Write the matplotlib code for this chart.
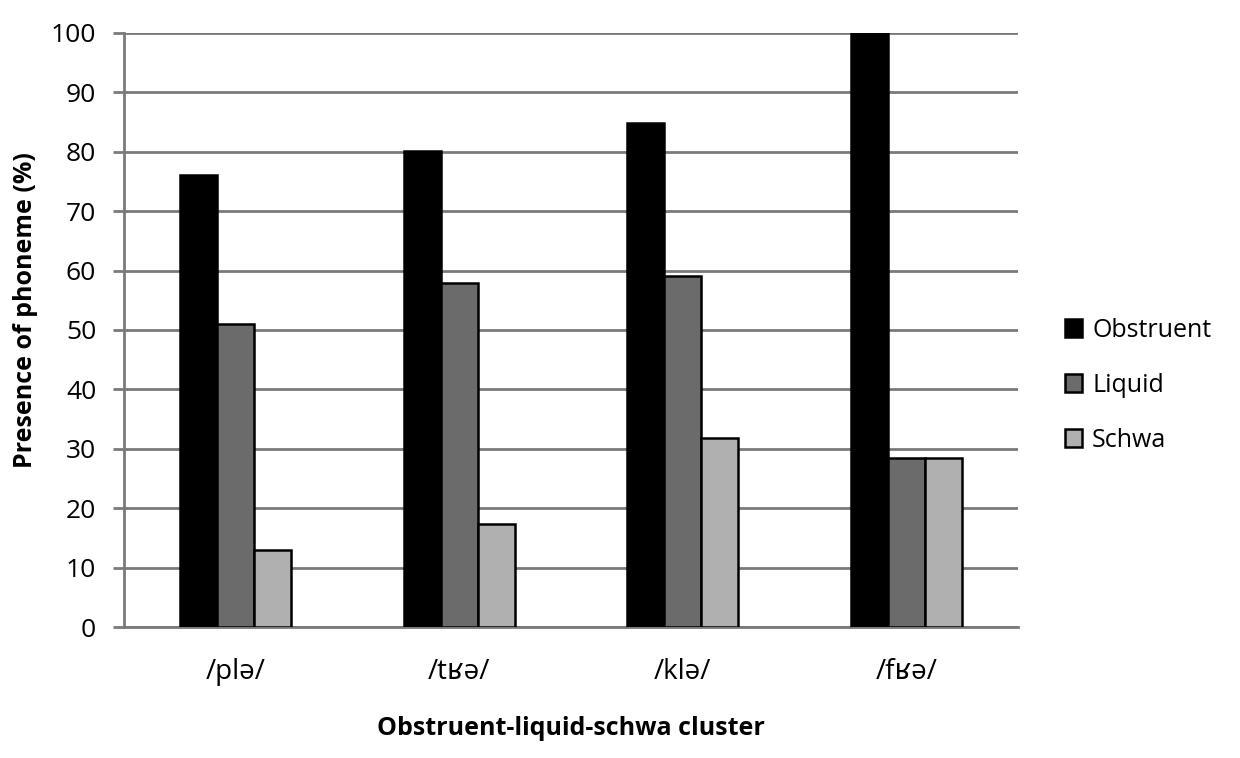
import matplotlib
matplotlib.use('Agg')
import matplotlib.pyplot as plt
import numpy as np

plt.rcParams['font.family'] = ['Open Sans', 'DejaVu Sans']

clusters = ['/plə/', '/tʁə/', '/klə/', '/fʁə/']
series = ['Obstruent', 'Liquid', 'Schwa']
obstruent = [76.1, 80.1, 84.9, 100.0]
liquid = [51.0, 57.9, 59.1, 28.5]
schwa = [13.0, 17.3, 31.9, 28.5]

colors = ['#000000', '#6b6b6b', '#b0b0b0']
grid_grey = '#7a7a7a'

fig = plt.figure(figsize=(12.4, 7.58), dpi=100)
ax = fig.add_axes([0.1, 0.1728, 0.721, 0.7837])

x = np.arange(len(clusters))
width = 0.165
for i, (name, vals) in enumerate(zip(series, [obstruent, liquid, schwa])):
    ax.bar(x + (i - 1) * width, vals, width, color=colors[i],
           edgecolor='black', linewidth=1.8, label=name, zorder=3)

ax.set_xlim(-0.5, len(clusters) - 0.5)
ax.set_ylim(0, 100)
ax.set_yticks(range(0, 101, 10))
ax.yaxis.grid(True, color=grid_grey, linewidth=2, zorder=0)
ax.set_axisbelow(True)

for side in ('top', 'right'):
    ax.spines[side].set_visible(False)
for side in ('left', 'bottom'):
    ax.spines[side].set_color(grid_grey)
    ax.spines[side].set_linewidth(2)

ax.tick_params(axis='y', length=8, width=2, color=grid_grey, labelsize=19,
               pad=12)
ax.tick_params(axis='x', length=0, labelsize=20, pad=22)
ax.set_xticks(x)
ax.set_xticklabels(clusters)

ax.set_ylabel('Presence of phoneme (%)', fontsize=18, fontweight='bold',
              va='center')
ax.yaxis.set_label_coords(-0.110, 0.534)
ax.set_xlabel('Obstruent-liquid-schwa cluster', fontsize=18,
              fontweight='bold', labelpad=22)

ax.legend(loc='center left', bbox_to_anchor=(0.8405, 0.492),
          bbox_transform=fig.transFigure, frameon=False, fontsize=18,
          handlelength=0.7, handleheight=0.7, handletextpad=0.4,
          labelspacing=1.2)

fig.savefig('out.png', dpi=100)
